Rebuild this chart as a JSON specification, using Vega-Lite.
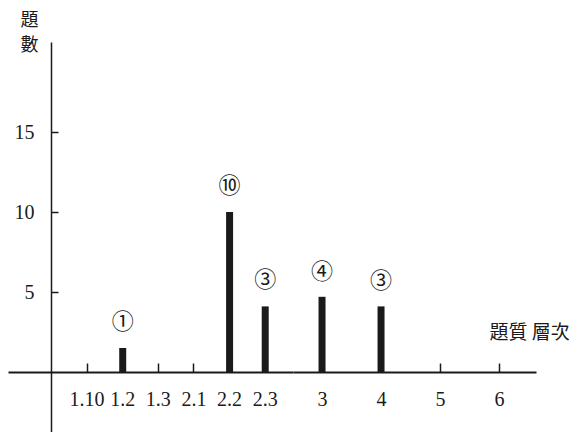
{
  "$schema": "https://vega.github.io/schema/vega-lite/v6.json",
  "padding": {"left": 8, "top": 11, "right": 0, "bottom": 0},
  "background": "white",
  "spacing": 0,
  "bounds": "flush",
  "datasets": {
    "bars": [
      {"level": "1.2", "height": 1.5, "label": "①"},
      {"level": "2.2", "height": 10, "label": "⑩"},
      {"level": "2.3", "height": 4.1, "label": "③"},
      {"level": "3", "height": 4.7, "label": "④"},
      {"level": "4", "height": 4.1, "label": "③"}
    ]
  },
  "config": {
    "view": {"stroke": null},
    "axis": {"grid": false, "domainColor": "#1a1a1a", "tickColor": "#1a1a1a", "labelColor": "#1a1a1a", "titleColor": "#1a1a1a"}
  },
  "resolve": {"scale": {"x": "independent", "y": "independent"}},
  "hconcat": [
    {
      "width": 285,
      "height": 390,
      "data": {"name": "bars"},
      "transform": [{"filter": {"field": "level", "oneOf": ["1.10", "1.2", "1.3", "2.1", "2.2", "2.3"]}}],
      "encoding": {
        "x": {
          "field": "level", "type": "ordinal",
          "scale": {"type": "band", "domain": ["1.10", "1.2", "1.3", "2.1", "2.2", "2.3"], "paddingInner": 0, "paddingOuter": 1, "align": 0.86},
          "axis": {"title": null, "offset": -60, "domainWidth": 2, "tickWidth": 1.5, "tickSize": -9, "bandPosition": 0.5, "labelFont": "Liberation Serif", "labelFontSize": 20, "labelPadding": 36, "labelBaseline": "middle", "labelAngle": 0}
        },
        "y": {
          "field": "height", "type": "quantitative",
          "scale": {"domain": [-3.75, 20.625], "nice": false, "zero": false},
          "axis": {"values": [5, 10, 15], "offset": -43, "domainWidth": 1.5, "tickWidth": 1.5, "tickSize": -7, "labelFont": "Liberation Serif", "labelFontSize": 20, "labelPadding": 24,
            "title": ["題", "數"], "titleAngle": 0, "titleX": -22, "titleY": -31, "titleAlign": "center", "titleBaseline": "top", "titleFont": "Noto Sans CJK TC", "titleFontSize": 18, "titleFontWeight": "normal", "titleLineHeight": 25}
        }
      },
      "layer": [
        {"mark": {"type": "bar", "size": 7, "color": "#1a1a1a"}, "encoding": {"y2": {"datum": 0}}},
        {"mark": {"type": "text", "dy": -26, "baseline": "middle", "font": "Noto Sans CJK TC", "fontSize": 22, "color": "#1a1a1a"}, "encoding": {"text": {"field": "label"}}}
      ]
    },
    {
      "width": 243,
      "height": 390,
      "data": {"name": "bars"},
      "transform": [{"filter": {"field": "level", "oneOf": ["3", "4", "5", "6"]}}],
      "encoding": {
        "x": {
          "field": "level", "type": "ordinal",
          "scale": {"type": "point", "domain": ["3", "4", "5", "6"], "padding": 0.559, "align": 0.44},
          "axis": {"offset": -60, "domainWidth": 2, "tickWidth": 1.5, "tickSize": -9, "labelFont": "Liberation Serif", "labelFontSize": 20, "labelPadding": 36, "labelBaseline": "middle", "labelAngle": 0,
            "title": "題質 層次", "titleX": 196, "titleY": -40, "titleAlign": "left", "titleBaseline": "middle", "titleFont": "Noto Sans CJK TC", "titleFontSize": 19, "titleFontWeight": "normal"}
        },
        "y": {
          "field": "height", "type": "quantitative",
          "scale": {"domain": [-3.75, 20.625], "nice": false, "zero": false},
          "axis": null
        }
      },
      "layer": [
        {"mark": {"type": "bar", "size": 7, "color": "#1a1a1a"}, "encoding": {"y2": {"datum": 0}}},
        {"mark": {"type": "text", "dy": -25, "baseline": "middle", "font": "Noto Sans CJK TC", "fontSize": 22, "color": "#1a1a1a"}, "encoding": {"text": {"field": "label"}}}
      ]
    }
  ]
}
